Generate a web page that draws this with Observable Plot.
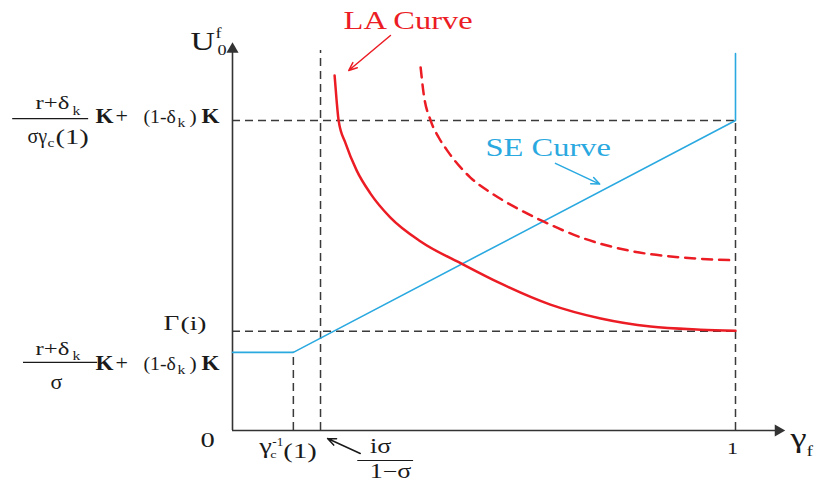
<!DOCTYPE html>
<html><head><meta charset="utf-8">
<script src="https://cdn.jsdelivr.net/npm/d3@7"></script>
<script src="https://cdn.jsdelivr.net/npm/@observablehq/plot@0.6"></script>
<style>body{margin:0;background:#fff}</style>
</head><body><div id="chart"></div>
<script>
// ---- data (gamma_f on x, U0f in arbitrary units on y) ----
const laX = [0.203,0.207,0.211,0.225,0.247,0.274,0.314,0.374,0.459,0.533,0.632,0.732,0.831,0.930,1.000];
const laY = [92.2,85.7,80.5,74.5,67.5,61.6,55.3,49.1,43.1,38.2,32.7,29.1,27.0,26.2,25.9];
const laShiftX = [0.374,0.380,0.394,0.410,0.427,0.473,0.513,0.559,0.618,0.698,0.797,0.897,1.000];
const laShiftY = [94.3,87.5,80.5,76.1,72.7,65.7,61.8,58.2,54.3,49.9,46.5,44.9,44.2];
const seX = [0, 0.121, 1, 1];
const seY = [20.3, 20.3, 80.5, 97.9];
const levelUpper = 80.5, levelGamma = 25.8, levelLow = 20.3;
const gammaInv = 0.121, iSigma = 0.175, gammaMax = 1;
const xAxisEnd = 1.085, yAxisEnd = 99.0, iSigmaTop = 98.7;

const RED = "#ec1c24", BLUE = "#2aa9e0", DASH = "#3a3a3a", INK = "#1a1a1a", AX = "#333";
const FONT = "Liberation Serif, Times New Roman, serif";

// annotation text pieces: anchor is a data point, dx/dy pixel offsets (left/baseline)
const U = [0, levelUpper], L = [0, levelLow], G = [0, levelGamma], O = [0, 0];
const GI = [gammaInv, 0], IS = [iSigma, 0], ONE = [gammaMax, 0], YT = [0, yAxisEnd];
const LA0 = [laX[0], laY[0]], SE1 = [gammaMax, levelUpper];
const K = "\u039A";
const pieces = [
  // upper left label
  {at:U, t:"r+δ", dx:-197, dy:-12, s:19},
  {at:U, t:"k", dx:-160, dy:-6, s:12},
  {at:U, t:"σγ", dx:-205, dy:22, s:20, sx:1.0},
  {at:U, t:"c", dx:-185, dy:26, s:12},
  {at:U, t:"(1)", dx:-177, dy:23, s:22},
  {at:U, t:K, dx:-137, dy:2, s:21, w:"bold", sx:1.1},
  {at:U, t:"+", dx:-117, dy:2, s:20, sx:1.1},
  {at:U, t:"(1-δ", dx:-89, dy:2, s:18, sx:1.1},
  {at:U, t:"k", dx:-55, dy:6, s:12},
  {at:U, t:")", dx:-43, dy:2, s:18, sx:1.2},
  {at:U, t:K, dx:-31, dy:2, s:21, w:"bold", sx:1.1},
  // lower left label
  {at:L, t:"r+δ", dx:-197, dy:3, s:19},
  {at:L, t:"k", dx:-160, dy:8, s:12},
  {at:L, t:"σ", dx:-182, dy:37, s:20, sx:1.1},
  {at:L, t:K, dx:-137, dy:18, s:21, w:"bold", sx:1.1},
  {at:L, t:"+", dx:-117, dy:18, s:20, sx:1.1},
  {at:L, t:"(1-δ", dx:-89, dy:18, s:18, sx:1.1},
  {at:L, t:"k", dx:-55, dy:22, s:12},
  {at:L, t:")", dx:-43, dy:18, s:18, sx:1.2},
  {at:L, t:K, dx:-31, dy:18, s:21, w:"bold", sx:1.1},
  // Gamma(i)
  {at:G, t:"Γ", dx:-69, dy:-1, s:21},
  {at:G, t:"(i)", dx:-52, dy:-1, s:19, sx:1.45},
  // gamma_c^-1(1)
  {at:GI, t:"γ", dx:-34, dy:22, s:22},
  {at:GI, t:"c", dx:-23, dy:27, s:11},
  {at:GI, t:"-1", dx:-21, dy:15, s:12, sx:1.1},
  {at:GI, t:"(1)", dx:-10, dy:27, s:22},
  // i sigma / (1 - sigma)
  {at:IS, t:"iσ", dx:60, dy:22, s:20, a:"middle"},
  {at:IS, t:"1−σ", dx:70, dy:47, s:20, a:"middle"},
  // axis labels
  {at:O, t:"0", dx:-32, dy:16, s:22},
  {at:ONE, t:"1", dx:-3, dy:23, s:17, a:"middle"},
  {at:ONE, t:"γ", dx:55, dy:16, s:28},
  {at:ONE, t:"f", dx:71, dy:25, s:15},
  {at:YT, t:"U", dx:-42, dy:1, s:26},
  {at:YT, t:"f", dx:-17, dy:-11, s:14},
  {at:YT, t:"0", dx:-15, dy:6, s:14},
  // curve names
  {at:LA0, t:"LA Curve", dx:9, dy:-47, s:25, c:RED},
  {at:SE1, t:"SE Curve", dx:-250, dy:35, s:25, c:BLUE}
];
const fracBars = [
  {y: levelUpper, x1: -0.437, x2: -0.286, dy: -2},
  {y: levelLow, x1: -0.4155, x2: -0.268, dy: 10},
  {y: 0, x1: 0.249, x2: 0.360, dy: 30}
];
const pointers = [
  {x1:0.314, y1:102.6, x2:0.231, y2:93.5, c:RED},
  {x1:0.642, y1:69.4, x2:0.730, y2:64.0, c:BLUE},
  {x1:0.254, y1:-5.97, x2:0.189, y2:-2.08, c:INK}
];

const toPts = (xs, ys) => xs.map((x, i) => ({x, y: ys[i]}));
const dash = {stroke: DASH, strokeWidth: 1.5, strokeDasharray: "8,5"};

const textMarks = pieces.map(p => Plot.text([{x: p.at[0], y: p.at[1], t: p.t}], {
  x: "x", y: "y", text: "t", dx: p.dx, dy: p.dy, fontSize: p.s,
  textAnchor: p.a || "start", lineAnchor: "bottom",
  fill: p.c || INK, fontWeight: p.w || "normal", fontFamily: FONT
}));

const svg = Plot.plot({
  width: 816, height: 482,
  x: {domain: [0, 1], range: [232, 735], axis: null},
  y: {domain: [0, 100], range: [430, 45], axis: null},
  style: {background: "#fff", fontFamily: FONT, overflow: "visible"},
  marks: [
    // dashed guides
    Plot.ruleY([levelUpper, levelGamma], {y: d => d, x1: 0, x2: gammaMax, ...dash}),
    Plot.ruleX([{x: gammaInv, y2: levelLow}, {x: iSigma, y2: iSigmaTop}, {x: gammaMax, y2: levelUpper}],
      {x: "x", y1: 0, y2: "y2", ...dash}),
    // axes
    Plot.ruleY([0], {x1: 0, x2: xAxisEnd, stroke: AX, strokeWidth: 1.6}),
    Plot.ruleX([0], {y1: 0, y2: yAxisEnd, stroke: AX, strokeWidth: 1.6}),
    Plot.dot([{x: xAxisEnd, y: 0, r: 90}, {x: 0, y: yAxisEnd, r: 0}],
      {x: "x", y: "y", rotate: "r", symbol: "triangle", r: 4.5, fill: AX, stroke: "none"}),
    // SE curve
    Plot.line(toPts(seX, seY), {x: "x", y: "y", stroke: BLUE, strokeWidth: 1.6}),
    // LA curves
    Plot.line(toPts(laShiftX, laShiftY), {x: "x", y: "y", curve: "monotone-x", stroke: RED, strokeWidth: 2.5, strokeDasharray: "10,7"}),
    Plot.line(toPts(laX, laY), {x: "x", y: "y", curve: "monotone-x", stroke: RED, strokeWidth: 2.5}),
    // fraction bars
    Plot.ruleY(fracBars, {y: "y", x1: "x1", x2: "x2", stroke: INK, strokeWidth: 1.2}),
    // pointer arrows
    Plot.arrow(pointers, {x1: "x1", y1: "y1", x2: "x2", y2: "y2", stroke: "c", strokeWidth: 1.5, headLength: 9, headAngle: 45}),
    ...textMarks
  ]
});

document.getElementById("chart").appendChild(svg);
// fraction bar pixel offsets
const ruleGroups = Array.from(svg.querySelectorAll('g[aria-label="rule"]'));
const barGroup = ruleGroups[ruleGroups.length - 1];
barGroup.querySelectorAll("line").forEach((ln, i) => {
  ln.setAttribute("transform", `translate(0,${fracBars[i].dy})`);
});
// horizontal stretch of text pieces (the reference glyphs are wide)
svg.querySelectorAll('g[aria-label="text"]').forEach((g, i) => {
  const sx = pieces[i].sx || 1.3;
  g.querySelectorAll("text").forEach(t => {
    const tr = t.getAttribute("transform") || "";
    t.setAttribute("transform", tr + ` scale(${sx},1)`);
  });
});
</script>
</body></html>
